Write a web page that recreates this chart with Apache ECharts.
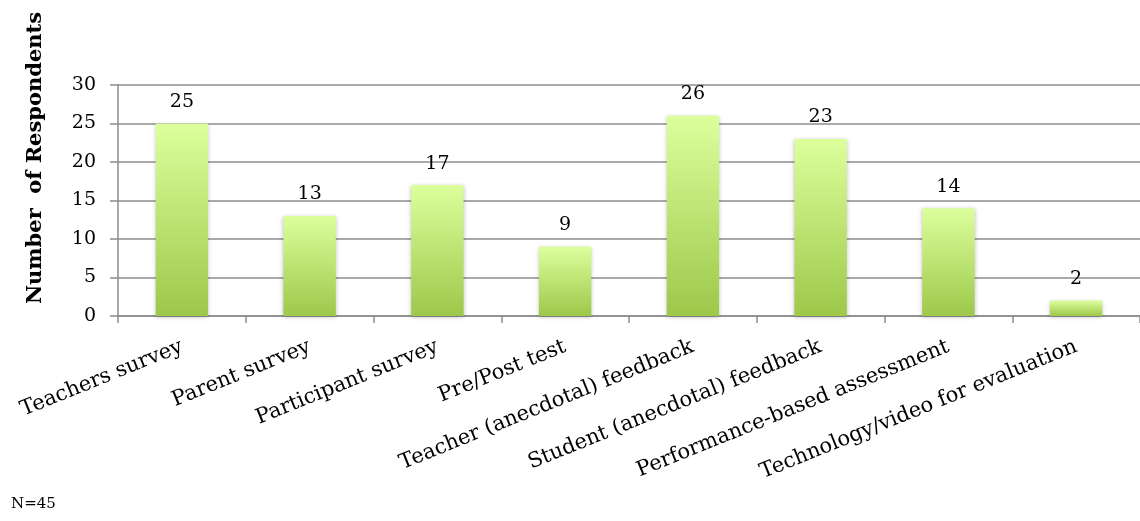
<!DOCTYPE html>
<html><head><meta charset="utf-8">
<script src="https://cdn.jsdelivr.net/npm/echarts@6/dist/echarts.min.js"></script>
<style>html,body{margin:0;padding:0;background:#fff}#c{width:1140px;height:521px}</style>
</head><body><div id="c"></div>
<script>
const categories = ["Teachers survey","Parent survey","Participant survey","Pre/Post test","Teacher (anecdotal) feedback","Student (anecdotal) feedback","Performance-based assessment","Technology/video for evaluation"];
const values = [25,13,17,9,26,23,14,2];
const yTicks = [0,5,10,15,20,25,30];
const yTitle = "Number  of Respondents";
const note = "N=45";

const font = "'DejaVu Serif',serif";
const chart = echarts.init(document.getElementById('c'));
chart.setOption({
  animation:false,
  grid:{left:118, right:-5, top:85, bottom:205, containLabel:false},
  graphic:[
    {type:'text', left:11, top:497, style:{text:note, font:"15px "+font, fill:'#000'}},
    {type:'text', x:36, y:158, rotation:Math.PI/2, style:{text:yTitle, font:"bold 21px "+font, fill:'#000', align:'center', verticalAlign:'middle'}}
  ],
  xAxis:{type:'category', data:categories,
    axisLine:{lineStyle:{color:'#8c8c8c', width:1.5}},
    axisTick:{show:true, length:7, lineStyle:{color:'#8c8c8c', width:1.5}},
    axisLabel:{rotate:22, interval:0, margin:30, fontFamily:font, fontSize:21, color:'#000'}},
  yAxis:{type:'value', min:yTicks[0], max:yTicks[yTicks.length-1], interval:5,
    axisLine:{show:true, lineStyle:{color:'#8c8c8c', width:1.5}},
    axisTick:{show:true, length:8, lineStyle:{color:'#8c8c8c', width:1.5}},
    splitLine:{lineStyle:{color:'#8c8c8c', width:1.5}},
    axisLabel:{margin:22, fontFamily:font, fontSize:19, color:'#000'}},
  series:[{type:'bar', data:values, barWidth:'41%',
    itemStyle:{color:new echarts.graphic.LinearGradient(0,0,0,1,[{offset:0,color:'#dcff9c'},{offset:1,color:'#9dc84a'}]),
      shadowColor:'rgba(0,0,0,0.25)', shadowBlur:4, shadowOffsetY:1},
    label:{show:true, position:'top', distance:12, fontFamily:font, fontSize:19, color:'#000'}}]
});
</script></body></html>
